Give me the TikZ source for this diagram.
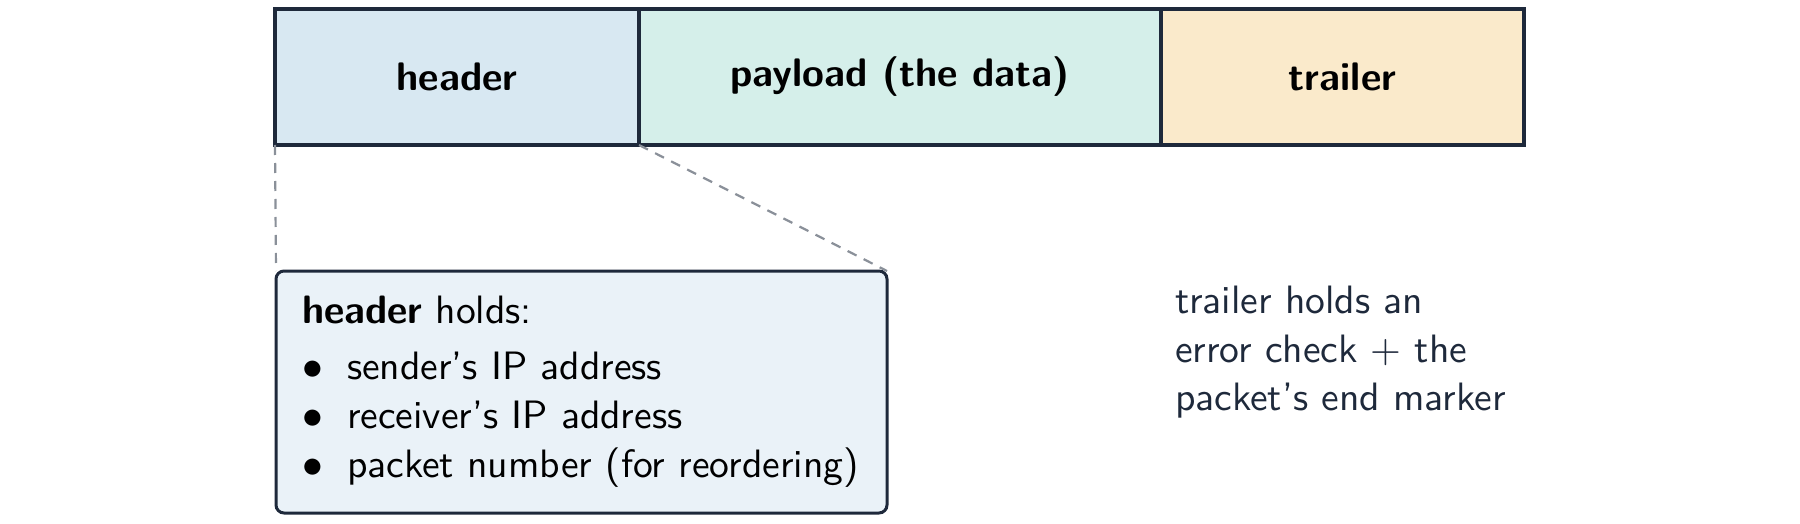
\documentclass[tikz,border=0pt]{standalone}
\usepackage{fontspec}
\setsansfont{lmsans10-regular.otf}[BoldFont=lmsans10-bold.otf]
\definecolor{edge}{HTML}{1E293B}
\definecolor{hdrfill}{HTML}{D8E8F2}
\definecolor{payfill}{HTML}{D5EFEA}
\definecolor{trlfill}{HTML}{FAEACB}
\definecolor{boxfill}{HTML}{EAF2F8}
\definecolor{dashgray}{HTML}{8A9099}
\definecolor{notetext}{HTML}{1E293B}
\tikzset{
  seg/.style={draw=edge, line width=1.6pt, rectangle, inner sep=0pt, outer sep=0pt,
    minimum height=68pt, anchor=north west, font=\sffamily\bfseries\fontsize{19.9}{24.5}\selectfont, text=black},
  detailbox/.style={draw=edge, line width=1.5pt, fill=boxfill, rounded corners=4pt, rectangle,
    inner sep=0pt, outer sep=0pt, anchor=north west, minimum width=305.5pt, minimum height=121pt},
  txt/.style={inner sep=0pt, outer sep=0pt, anchor=base west, font=\sffamily\fontsize{19.8}{24.5}\selectfont},
  zoomline/.style={draw=dashgray, line width=1.1pt, dash pattern=on 5pt off 4pt}
}
\newcommand{\blt}{\makebox[22.5pt][l]{$\bullet$}}
\begin{document}
\begin{tikzpicture}[x=0.5pt,y=-0.5pt]
\useasboundingbox (0,0) rectangle (1800,524);
% top bar
\node[seg, fill=hdrfill, minimum width=182pt] (hdr) at (275,9) {header};
\node[seg, fill=payfill, minimum width=261pt] (pay) at (639,9) {payload (the data)};
\node[seg, fill=trlfill, minimum width=181.5pt] (trl) at (1161,9) {trailer};
% detail box
\node[detailbox] (det) at (276,271) {};
\draw[zoomline] (hdr.south west) -- (det.north west);
\draw[zoomline] (hdr.south east) -- (det.north east);
\node[txt, text=black] (h0) at (302,323) {\textbf{header} holds:};
\node[txt, text=black] (h1) at (302,379) {\blt sender's IP address};
\node[txt, text=black] (h2) at (302,428) {\blt receiver's IP address};
\node[txt, text=black] (h3) at (302,477) {\blt packet number (for reordering)};
% trailer note
\node[txt, text=notetext] (t1) at (1175,313) {trailer holds an};
\node[txt, text=notetext] (t2) at (1175,362) {error check + the};
\node[txt, text=notetext] (t3) at (1175,410) {packet's end marker};
\end{tikzpicture}
\end{document}
